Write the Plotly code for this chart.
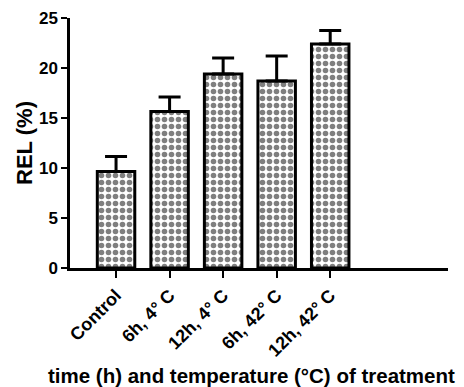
import plotly.graph_objects as go

categories = ["Control", "6h, 4° C", "12h, 4° C", "6h, 42° C", "12h, 42° C"]
rel_values = [9.65, 15.65, 19.4, 18.7, 22.4]
rel_errors = [1.5, 1.45, 1.6, 2.5, 1.35]
y_ticks = [0, 5, 10, 15, 20, 25]

FONT = "Liberation Sans, Arial, sans-serif"

fig = go.Figure()
fig.add_trace(go.Bar(
    x=list(range(len(categories))),
    y=rel_values,
    width=0.7,
    marker=dict(
        color="white",
        line=dict(color="black", width=3),
        pattern=dict(shape=".", size=7, solidity=0.5, fgcolor="black", bgcolor="white"),
    ),
    error_y=dict(type="data", array=rel_errors, arrayminus=[0] * len(rel_errors),
                 symmetric=False, color="black", thickness=3, width=11),
    showlegend=False,
))

fig.update_layout(
    width=464, height=387,
    margin=dict(l=70, r=16, t=18, b=119, autoexpand=False),
    plot_bgcolor="white", paper_bgcolor="white",
    font=dict(family=FONT, color="black"),
    xaxis=dict(
        range=[-0.86, 6.2],
        tickmode="array", tickvals=list(range(len(categories))), ticktext=categories,
        tickangle=-45,
        tickfont=dict(family=FONT, size=18, color="black", weight="bold"),
        showline=True, linecolor="black", linewidth=2.5,
        ticks="outside", ticklen=7, tickwidth=2, tickcolor="black",
        showgrid=False, zeroline=False, automargin=False,
    ),
    yaxis=dict(
        range=[0, 25],
        tickmode="array", tickvals=y_ticks,
        tickfont=dict(family=FONT, size=17, color="black", weight="bold"),
        showline=True, linecolor="black", linewidth=2.5,
        ticks="outside", ticklen=6, tickwidth=2, tickcolor="black",
        showgrid=False, zeroline=False, automargin=False,
        title=dict(text="REL (%)", font=dict(family=FONT, size=22, color="black", weight="bold"), standoff=1),
    ),
    annotations=[dict(
        text="time (h) and temperature (°C) of treatment",
        xref="paper", yref="paper", x=0.479, y=-0.43, xanchor="center", yanchor="middle",
        showarrow=False,
        font=dict(family=FONT, size=20.5, color="black", weight="bold"),
    )],
)

fig.write_html("out.html", config={"displayModeBar": False},
               post_script="document.body.style.margin='0';document.body.style.overflow='hidden';")
